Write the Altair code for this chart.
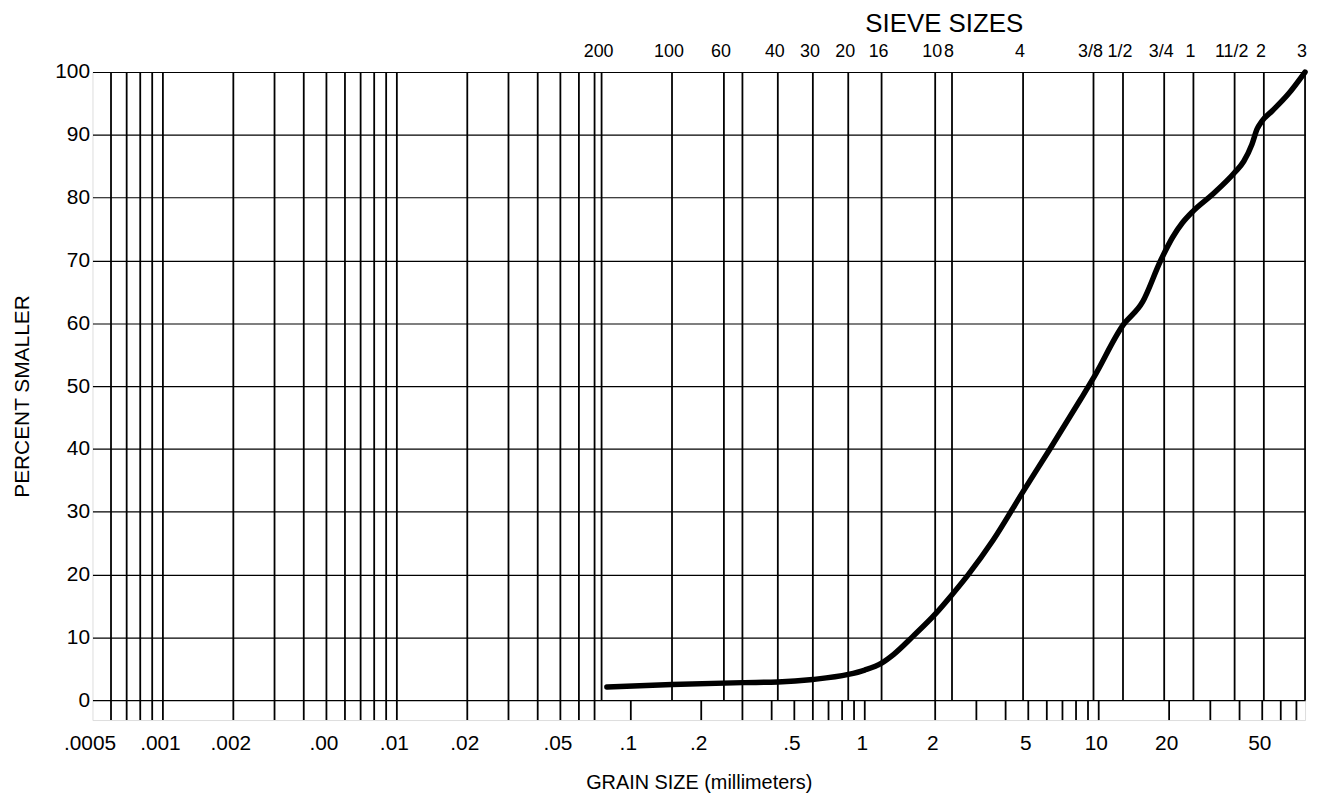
import altair as alt
import pandas as pd

# ---------------- data ----------------
# grain-size distribution curve (mm, percent smaller)
curve_mm = [0.079, 0.15, 0.3, 0.425, 0.6, 0.85, 1.0, 1.18, 1.33, 1.61, 2.0, 2.36, 2.77,
            3.54, 4.75, 6.19, 8.37, 9.5, 12.7, 15.4, 18.4, 20.7, 22.8, 25.4, 30.6,
            38.1, 41.7, 45.2, 47.5, 49.9, 55.1, 64.6, 76.2]
curve_pct = [2.1, 2.5, 2.8, 2.9, 3.3, 4.1, 4.8, 5.9, 7.3, 10.2, 13.7, 16.8, 20.0,
             25.5, 33.2, 40.0, 47.9, 51.3, 59.7, 63.4, 70.0, 73.7, 76.0, 77.9, 80.5,
             84.0, 85.8, 88.5, 90.9, 92.2, 93.8, 96.5, 100.0]

# sieve openings (mm) and their labels (top axis)
sieve_labels = ["200", "100", "60", "40", "30", "20", "16", "10", "8", "4",
                "3/8", "1/2", "3/4", "1", "11/2", "2", "3"]
sieve_mm = [0.075, 0.15, 0.25, 0.425, 0.6, 0.85, 1.18, 2.0, 2.36, 4.75,
            9.5, 12.7, 19.05, 25.4, 38.1, 50.8, 76.2]
unlabeled_sieve_mm = [0.3]

# fine-range (hydrometer) grid lines, full height
fine_lines_mm = [0.0006, 0.0007, 0.0008, 0.0009, 0.001, 0.002, 0.003, 0.004, 0.005,
                 0.006, 0.007, 0.008, 0.009, 0.01, 0.02, 0.03, 0.04, 0.05, 0.06, 0.07]

# log-scale ticks in the strip under 0 %
strip_ticks_mm = [0.1, 0.2, 0.3, 0.4, 0.5, 0.6, 0.7, 0.8, 0.9,
                  1, 2, 3, 4, 5, 6, 7, 8, 9, 10, 20, 30, 40, 50, 60, 70]

# bottom axis labels
grain_tick_mm = [0.0005, 0.001, 0.002, 0.005, 0.01, 0.02, 0.05, 0.1, 0.2, 0.5,
                 1, 2, 5, 10, 20, 50]
grain_tick_text = [".0005", ".001", ".002", ".00", ".01", ".02", ".05", ".1", ".2", ".5",
                   "1", "2", "5", "10", "20", "50"]

pct_ticks = [0, 10, 20, 30, 40, 50, 60, 70, 80, 90, 100]

# ---------------- chart ----------------
FONT = "Liberation Sans"
W, H = 1220, 652
Y_MIN = -3.16

label_expr = "''"
for v, t in reversed(list(zip(grain_tick_mm, grain_tick_text))):
    label_expr = f"datum.value == {v} ? '{t}' : ({label_expr})"

xscale = alt.Scale(type="log", domain=[0.0005, 76.2], nice=False)
yscale = alt.Scale(domain=[Y_MIN, 100], nice=False, zero=False)

xaxis = alt.Axis(values=grain_tick_mm, labelExpr=label_expr, grid=False, domain=False,
                 ticks=False, tickSize=0, labelFontSize=21, labelPadding=13,
                 labelOffset=-3, labelOverlap=False, labelFlush=False,
                 title="GRAIN SIZE (millimeters)", titleFontSize=20,
                 titleFontWeight="normal", titlePadding=19)
yaxis = alt.Axis(values=pct_ticks, grid=True, gridColor="black", gridWidth=1.2,
                 gridOpacity=1, domain=False, ticks=False, tickSize=0,
                 labelFontSize=21, labelPadding=3,
                 title="PERCENT SMALLER", titleFontSize=21, titleFontWeight="normal",
                 titlePadding=22)

X = lambda: alt.X("mm:Q", scale=xscale, axis=xaxis)

curve_df = pd.DataFrame({"mm": curve_mm, "pct": curve_pct})
fine_df = pd.DataFrame({"mm": fine_lines_mm})
sieve_df = pd.DataFrame({"mm": sieve_mm + unlabeled_sieve_mm})
strip_df = pd.DataFrame({"mm": strip_ticks_mm})
sieve_lab_df = pd.DataFrame({"mm": sieve_mm, "label": sieve_labels})

fine = alt.Chart(fine_df).mark_rule(color="black", strokeWidth=1.8).encode(
    x=X(), y=alt.datum(100, scale=yscale, axis=yaxis), y2=alt.datum(Y_MIN))

sieves = alt.Chart(sieve_df).mark_rule(color="black", strokeWidth=1.8).encode(
    x=X(), y=alt.datum(100, scale=yscale, axis=yaxis), y2=alt.datum(0))

strip = alt.Chart(strip_df).mark_rule(color="black", strokeWidth=1.8).encode(
    x=X(), y=alt.datum(0, scale=yscale, axis=yaxis), y2=alt.datum(Y_MIN))

curve = alt.Chart(curve_df).mark_line(color="black", strokeWidth=5.5,
                                      interpolate="monotone", strokeCap="round").encode(
    x=X(), y=alt.Y("pct:Q", scale=yscale, axis=yaxis))

sieve_text = alt.Chart(sieve_lab_df).mark_text(
    font=FONT, fontSize=18, color="black", baseline="middle", align="center", dx=-3).encode(
    x=X(), y=alt.value(-20), text="label:N")

title_text = alt.Chart(pd.DataFrame({"t": ["SIEVE SIZES"]})).mark_text(
    font=FONT, fontSize=26, color="black", baseline="middle", align="center").encode(
    x=alt.value(857), y=alt.value(-48), text="t:N")

chart = alt.layer(fine, sieves, strip, curve, sieve_text, title_text).properties(
    width=W, height=H, autosize="none",
    padding={"left": 85, "top": 62, "right": 7, "bottom": 74},
).configure_view(stroke="black", strokeWidth=3).configure_axis(
    labelFont=FONT, titleFont=FONT, labelColor="black", titleColor="black"
).configure(background="white")

chart.save("out.html", embed_options={"renderer": "svg", "actions": False})
